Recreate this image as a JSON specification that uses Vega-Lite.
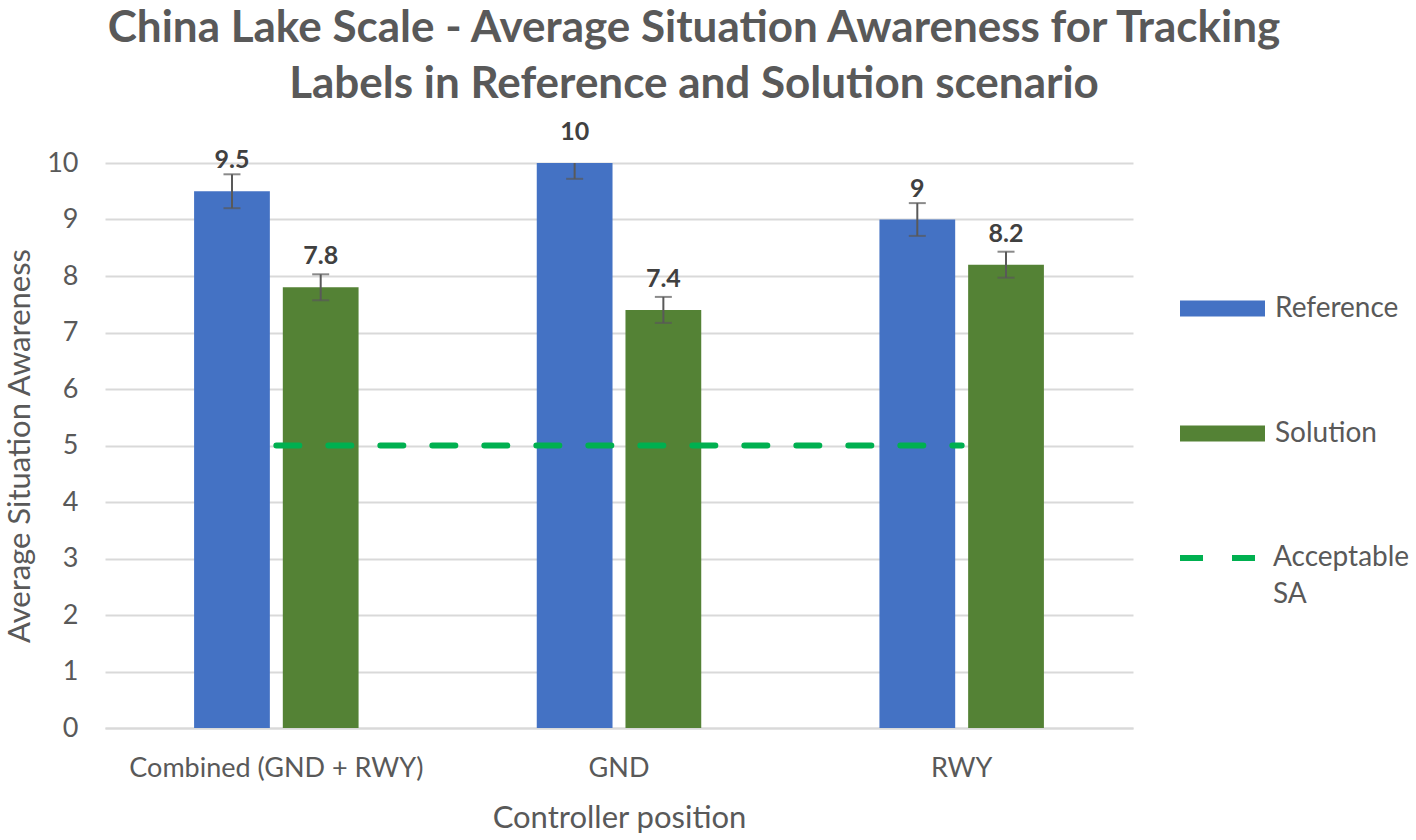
{
  "$schema": "https://vega.github.io/schema/vega-lite/v6.json",
  "width": 1028,
  "height": 565,
  "autosize": {"type": "none"},
  "padding": {"left": 105, "top": 163, "right": 283, "bottom": 112},
  "background": "white",
  "title": {
    "text": ["China Lake Scale - Average Situation Awareness for Tracking", "Labels in Reference and Solution scenario"],
    "font": "Lato",
    "fontSize": 44,
    "fontWeight": "bold",
    "color": "#595959",
    "lineHeight": 56,
    "anchor": "middle",
    "frame": "group",
    "baseline": "alphabetic",
    "dx": 75,
    "offset": -22
  },
  "datasets": {
    "bars": [
      {"position": "Combined (GND + RWY)", "series": "Reference", "value": 9.5, "lo": 9.2, "hi": 9.8},
      {"position": "Combined (GND + RWY)", "series": "Solution", "value": 7.8, "lo": 7.57, "hi": 8.03},
      {"position": "GND", "series": "Reference", "value": 10, "lo": 9.72, "hi": 10.28},
      {"position": "GND", "series": "Solution", "value": 7.4, "lo": 7.17, "hi": 7.63},
      {"position": "RWY", "series": "Reference", "value": 9, "lo": 8.71, "hi": 9.29},
      {"position": "RWY", "series": "Solution", "value": 8.2, "lo": 7.97, "hi": 8.43}
    ],
    "line": [
      {"position": "Combined (GND + RWY)", "series": "Acceptable SA", "value": 5},
      {"position": "GND", "series": "Acceptable SA", "value": 5},
      {"position": "RWY", "series": "Acceptable SA", "value": 5}
    ]
  },
  "encoding": {
    "x": {
      "field": "position",
      "type": "nominal",
      "sort": ["Combined (GND + RWY)", "GND", "RWY"],
      "scale": {"paddingInner": 0.52, "paddingOuter": 0.26},
      "axis": {
        "title": "Controller position",
        "labelAngle": 0,
        "labelFont": "Lato",
        "labelFontSize": 27,
        "labelColor": "#595959",
        "labelPadding": 27,
        "labelLimit": 500,
        "ticks": false,
        "domainColor": "#d9d9d9",
        "domainWidth": 2,
        "titleFont": "Lato",
        "titleFontSize": 31,
        "titleFontWeight": "normal",
        "titleColor": "#595959",
        "titlePadding": 22
      }
    }
  },
  "layer": [
    {
      "data": {"name": "bars"},
      "mark": {"type": "bar"},
      "encoding": {
        "xOffset": {"field": "series", "type": "nominal", "scale": {"domain": ["Reference", "Solution"], "paddingInner": 0.146, "paddingOuter": 0}},
        "y": {
          "field": "value",
          "type": "quantitative",
          "scale": {"domain": [0, 10], "nice": false},
          "axis": {
            "title": "Average Situation Awareness",
            "values": [0, 1, 2, 3, 4, 5, 6, 7, 8, 9, 10],
            "format": "d",
            "domain": false,
            "ticks": false,
            "gridColor": "#d9d9d9",
            "gridWidth": 2,
            "labelFont": "Lato",
            "labelFontSize": 27,
            "labelColor": "#595959",
            "labelPadding": 27,
            "titleFont": "Lato",
            "titleFontSize": 31,
            "titleFontWeight": "normal",
            "titleColor": "#595959",
            "titlePadding": 10
          }
        },
        "fill": {
          "field": "series",
          "type": "nominal",
          "scale": {"domain": ["Reference", "Solution"], "range": ["#4472C4", "#548235"]},
          "legend": {
            "orient": "none",
            "legendX": 1075,
            "legendY": 103,
            "title": null,
            "padding": 0,
            "symbolType": "M-1,-0.19H1V0.19H-1Z",
            "symbolSize": 7225,
            "symbolStrokeWidth": 0,
            "rowPadding": 68,
            "labelFont": "Lato",
            "labelFontSize": 28,
            "labelColor": "#595959",
            "labelOffset": 10
          }
        }
      }
    },
    {
      "data": {"name": "bars"},
      "mark": {"type": "rule", "color": "#595959", "strokeWidth": 2, "clip": true},
      "encoding": {
        "xOffset": {"field": "series", "type": "nominal"},
        "y": {"field": "lo", "type": "quantitative"},
        "y2": {"field": "hi"}
      }
    },
    {
      "data": {"name": "bars"},
      "mark": {"type": "tick", "color": "#595959", "thickness": 2, "size": 17, "clip": true},
      "encoding": {
        "xOffset": {"field": "series", "type": "nominal"},
        "y": {"field": "lo", "type": "quantitative"}
      }
    },
    {
      "data": {"name": "bars"},
      "mark": {"type": "tick", "color": "#595959", "thickness": 2, "size": 17, "clip": true},
      "encoding": {
        "xOffset": {"field": "series", "type": "nominal"},
        "y": {"field": "hi", "type": "quantitative"}
      }
    },
    {
      "data": {"name": "bars"},
      "mark": {"type": "text", "font": "Lato", "fontSize": 25, "fontWeight": "bold", "color": "#404040", "baseline": "alphabetic", "dy": -23},
      "encoding": {
        "xOffset": {"field": "series", "type": "nominal"},
        "y": {"field": "value", "type": "quantitative"},
        "text": {"field": "value", "type": "quantitative"}
      }
    },
    {
      "data": {"name": "line"},
      "mark": {"type": "line", "color": "#00B050", "strokeWidth": 6, "strokeCap": "round"},
      "encoding": {
        "y": {"field": "value", "type": "quantitative"},
        "strokeDash": {
          "field": "series",
          "type": "nominal",
          "scale": {"domain": ["Acceptable SA"], "range": [[23, 29]]},
          "legend": {
            "orient": "none",
            "legendX": 1072,
            "legendY": 352,
            "title": null,
            "padding": 0,
            "symbolType": "stroke",
            "symbolSize": 6400,
            "symbolStrokeWidth": 6,
            "symbolStrokeColor": "#00B050",
            "labelFont": "Lato",
            "labelFontSize": 28,
            "labelColor": "#595959",
            "labelOffset": 10,
            "labelExpr": "datum.label == 'Acceptable SA' ? ['Acceptable', 'SA'] : datum.label"
          }
        }
      }
    }
  ],
  "config": {
    "view": {"stroke": null},
    "font": "Lato",
    "style": {"guide-label": {"lineHeight": 37}}
  }
}
